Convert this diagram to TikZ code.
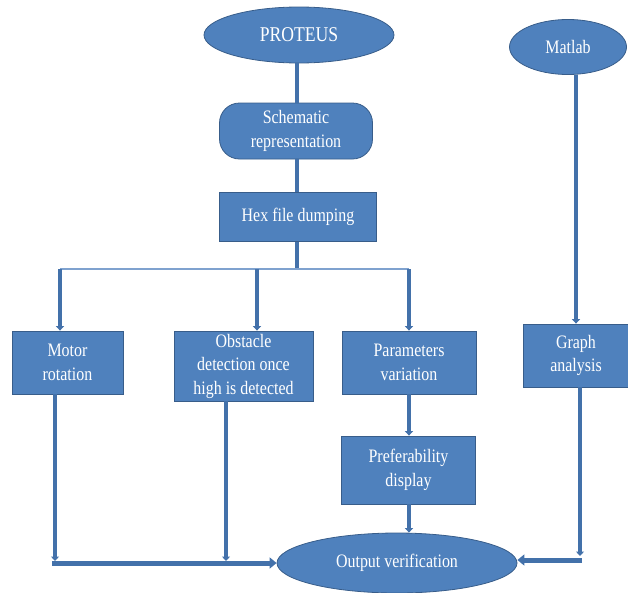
\documentclass[tikz,border=0pt]{standalone}
\usepackage{fontspec}
\setmainfont{Liberation Serif}[FakeStretch=0.84]
\usetikzlibrary{shapes.geometric,arrows.meta,calc}
\definecolor{boxfill}{HTML}{4F81BD}
\definecolor{boxline}{HTML}{385D8A}
\definecolor{conn}{HTML}{4371AA}
\definecolor{branchc}{HTML}{7FA2CF}
\tikzset{
  base/.style={fill=boxfill, draw=boxline, line width=0.8pt, text=white, align=center,
    font=\fontsize{19}{23.5}\selectfont, inner sep=0pt},
  oval/.style={base, ellipse},
  procbox/.style={base, rectangle},
  roundbox/.style={base, rectangle, rounded corners=20pt},
  link/.style={conn, line width=3.2pt},
  arrowlink/.style={link, -{Triangle[width=8pt,length=4.5pt]}},
  blockarrow/.style={conn, line width=5pt, -{Triangle[width=11pt,length=7pt]}},
  branch/.style={branchc, line width=2pt}
}
\begin{document}
\begin{tikzpicture}[x=1pt,y=-1pt]
\useasboundingbox (0,0) rectangle (628,592);
% nodes
\node[oval, minimum width=190pt, minimum height=56pt, font=\fontsize{21}{24}\selectfont] (proteus) at (299,35) {PROTEUS};
\node[oval, minimum width=117pt, minimum height=55pt] (matlab) at (568,47) {Matlab};
\node[roundbox, minimum width=153pt, minimum height=56pt] (schem) at (296,131) {Schematic\\representation};
\node[procbox, minimum width=157pt, minimum height=49pt] (hex) at (298,217) {Hex file dumping};
\node[procbox, minimum width=111pt, minimum height=63pt] (motor) at (67.5,362.5) {Motor\\rotation};
\node[procbox, minimum width=139pt, minimum height=70pt] (obst) at (243.5,366) {Obstacle\\detection once\\high is detected};
\node[procbox, minimum width=134pt, minimum height=63pt] (param) at (409,362.5) {Parameters\\variation};
\node[procbox, minimum width=105pt, minimum height=63pt] (graph) at (576,355.5) {Graph\\analysis};
\node[procbox, minimum width=134pt, minimum height=68pt] (pref) at (408.5,470) {Preferability\\display};
\node[oval, minimum width=240pt, minimum height=60pt] (out) at (397,563) {Output verification};
% helper coordinates
\coordinate (bj) at (297,269);
\coordinate (bl) at (60,269);
\coordinate (br) at (409,269);
\coordinate (mb) at (55,561);
\coordinate (ob) at (226,561);
\coordinate (hl) at (52,563);
\coordinate (gb) at (580,556);
\coordinate (gr) at (582,560);
% top chain
\draw[link] (proteus.south -| bj) -- (schem.north -| bj);
\draw[link] (schem.south -| bj) -- (hex.north -| bj);
\draw[link] (hex.south -| bj) -- (bj);
\draw[branch] (bl) -- (br);
% branches
\draw[arrowlink] (bl) -- (motor.north -| bl);
\draw[arrowlink] (bj -| 257,0) -- (obst.north -| 257,0);
\draw[arrowlink] (br) -- (param.north -| br);
\draw[arrowlink] (matlab.south -| graph.north) -- (graph.north);
\draw[arrowlink] (param.south -| br) -- (pref.north -| br);
\draw[arrowlink] (pref.south -| br) -- (out.north -| br);
% bottom connections
\draw[arrowlink] (motor.south -| mb) -- (mb);
\draw[arrowlink] (obst.south -| ob) -- (ob);
\draw[blockarrow] (hl) -- (out.west);
\draw[arrowlink] (graph.south -| gb) -- (gb);
\draw[blockarrow] (gr) -- (out.east |- gr);
\end{tikzpicture}
\end{document}
